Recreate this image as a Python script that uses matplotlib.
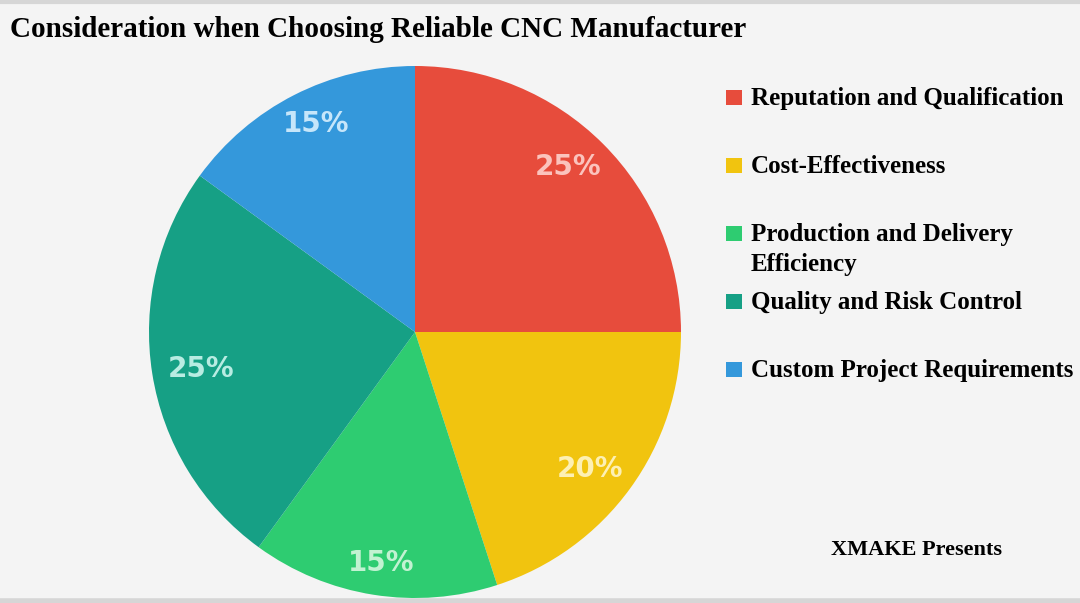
import matplotlib.pyplot as plt
from matplotlib.patches import Rectangle
from matplotlib.lines import Line2D

categories = [
    "Reputation and Qualification",
    "Cost-Effectiveness",
    "Production and Delivery\nEfficiency",
    "Quality and Risk Control",
    "Custom Project Requirements",
]
shares = [25, 20, 15, 25, 15]
wedge_colors = ["#e74c3c", "#f1c40f", "#2ecc71", "#16a085", "#3498db"]
label_colors = ["#fbc3bd", "#fdf0b4", "#c2f2d2", "#b8ece2", "#c6e6fa"]

W, H = 1080, 603
fig = plt.figure(figsize=(W / 100, H / 100), dpi=100)
fig.patch.set_facecolor("#f4f4f4")

# pie: center ~(415, 332) px, radius ~266 px
cx, cy, r = 415, 332, 266
ax = fig.add_axes([(cx - r) / W, 1 - (cy + r) / H, 2 * r / W, 2 * r / H])
wedges, texts, autotexts = ax.pie(
    shares, colors=wedge_colors, startangle=90, counterclock=False,
    autopct="%d%%", pctdistance=0.84, radius=1.0,
    wedgeprops=dict(linewidth=0),
)
for t, c in zip(autotexts, label_colors):
    x, y = t.get_position()
    t.set_position((x * 0.97, y * 1.045))
    t.set_color(c)
    t.set_fontsize(20)
    t.set_fontweight("bold")
    t.set_family("DejaVu Sans")
ax.set_xlim(-1, 1)
ax.set_ylim(-1, 1)
ax.set_aspect("auto")
ax.axis("off")

serif = "Liberation Serif"
fig.text(10 / W, 1 - 37 / H, "Consideration when Choosing Reliable CNC Manufacturer",
         family=serif, fontweight="bold", fontsize=21, ha="left", va="baseline")

# legend rows (baseline of first line, px); 30 px between wrapped lines
rows = [105, 173, 241, 309, 377]
line_gap = 30
for y, label, col in zip(rows, categories, wedge_colors):
    fig.add_artist(Rectangle((726 / W, 1 - y / H), 16 / W, 15 / H,
                             transform=fig.transFigure, facecolor=col, edgecolor="none"))
    last_base = y + line_gap * label.count("\n")
    fig.text(751 / W, 1 - last_base / H, label, family=serif, fontweight="bold",
             fontsize=18, ha="left", va="baseline", linespacing=1.39)

fig.text(831 / W, 1 - 555 / H, "XMAKE Presents", family=serif, fontweight="bold",
         fontsize=16, ha="left", va="baseline")

# thin grey frame lines top and bottom
fig.add_artist(Line2D([0, 1], [1 - 1.5 / H] * 2, transform=fig.transFigure, color="#d6d6d6", lw=3))
fig.add_artist(Line2D([0, 1], [2.5 / H] * 2, transform=fig.transFigure, color="#d6d6d6", lw=4))

fig.savefig("out.png", dpi=100, facecolor=fig.get_facecolor())
